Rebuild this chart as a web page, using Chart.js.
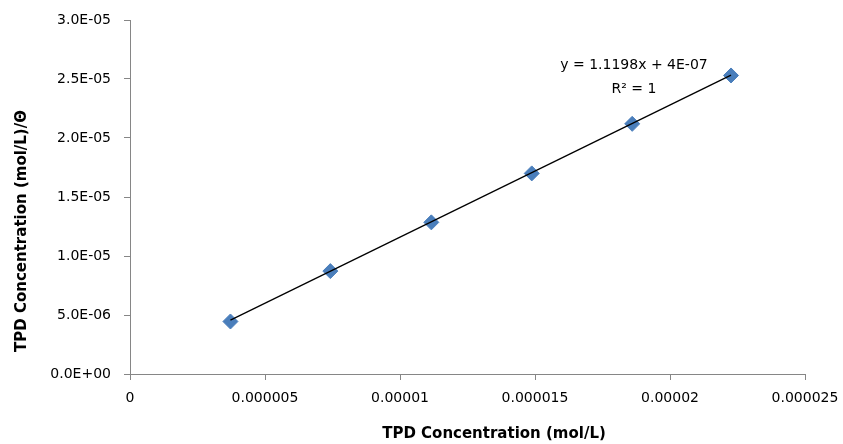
<!DOCTYPE html>
<html>
<head>
<meta charset="utf-8">
<script src="https://cdn.jsdelivr.net/npm/chart.js@4"></script>
<style>
  body { margin: 0; background: #fff; }
  #wrap { width: 843px; height: 444px; position: relative; }
</style>
</head>
<body>
<div id="wrap"><canvas id="myChart"></canvas></div>
<script>
// data
const tpdConc = [3.72e-6, 7.42e-6, 1.116e-5, 1.488e-5, 1.86e-5, 2.226e-5];
const tpdOverTheta = [4.45e-6, 8.72e-6, 1.285e-5, 1.70e-5, 2.12e-5, 2.53e-5];
const xTickLabels = ["0", "0.000005", "0.00001", "0.000015", "0.00002", "0.000025"];
const yTickLabels = ["0.0E+00", "5.0E-06", "1.0E-05", "1.5E-05", "2.0E-05", "2.5E-05", "3.0E-05"];
const tickStep = 5e-6;

// Excel linear trendline shown on the chart
const slope = 1.1198;
const intercept = 4e-7;

const FONT = "'DejaVu Sans', sans-serif";

window.onload = function graph() {
  const points = tpdConc.map((x, i) => ({ x: x, y: tpdOverTheta[i] }));
  const xFirst = tpdConc[0];
  const xLast = tpdConc[tpdConc.length - 1];
  const trend = [
    { x: xFirst, y: slope * xFirst + intercept },
    { x: xLast, y: slope * xLast + intercept },
  ];

  // axis titles + trendline label
  const textPlugin = {
    id: "texts",
    afterDraw(chart) {
      const ctx = chart.ctx;
      ctx.save();
      ctx.fillStyle = "#000";
      ctx.textAlign = "center";
      ctx.textBaseline = "middle";
      ctx.font = "14px " + FONT;
      ctx.fillText("y = 1.1198x + 4E-07", 634, 65);
      ctx.fillText("R² = 1", 634, 89);

      ctx.font = "bold 15px " + FONT;
      ctx.fillText("TPD Concentration (mol/L)", 494, 434);
      ctx.translate(22, 231);
      ctx.rotate(-Math.PI / 2);
      ctx.fillText("TPD Concentration (mol/L)/Θ", 0, 0);
      ctx.restore();
    },
  };

  const ctx = document.getElementById("myChart").getContext("2d");
  const myChart = new Chart(ctx, {
    type: "scatter",
    data: {
      datasets: [
        {
          label: "trend",
          data: trend,
          showLine: true,
          borderColor: "#000",
          borderWidth: 1.3,
          pointRadius: 0,
          pointHoverRadius: 0,
        },
        {
          label: "TPD",
          data: points,
          pointStyle: "rectRot",
          pointRadius: 7.5,
          pointHoverRadius: 7.5,
          backgroundColor: "#4A7EBB",
          borderColor: "#4A7EBB",
          borderWidth: 1,
        },
      ],
    },
    options: {
      responsive: true,
      maintainAspectRatio: false,
      devicePixelRatio: 1,
      animation: false,
      layout: { padding: { left: 0, right: 38, top: 20, bottom: 0 } },
      plugins: {
        legend: { display: false },
        tooltip: { enabled: false },
      },
      scales: {
        x: {
          type: "linear",
          min: 0,
          max: 2.5e-5,
          afterFit: (s) => { s.height = 70; s.paddingLeft = 0; s.paddingRight = 0; },
          border: { color: "#868686", width: 1 },
          grid: { drawOnChartArea: false, drawTicks: true, tickLength: 6, color: "#868686" },
          ticks: {
            stepSize: tickStep,
            padding: 10,
            color: "#000",
            font: { family: FONT, size: 14 },
            maxRotation: 0,
            callback: (v) => xTickLabels[Math.round(v / tickStep)],
          },
        },
        y: {
          type: "linear",
          min: 0,
          max: 3e-5,
          afterFit: (s) => { s.width = 130; s.paddingTop = 0; s.paddingBottom = 0; },
          border: { color: "#868686", width: 1 },
          grid: { drawOnChartArea: false, drawTicks: true, tickLength: 6, color: "#868686" },
          ticks: {
            stepSize: tickStep,
            padding: 13,
            color: "#000",
            font: { family: FONT, size: 14 },
            callback: (v) => yTickLabels[Math.round(v / tickStep)],
          },
        },
      },
    },
    plugins: [textPlugin],
  });
};
</script>
</body>
</html>
